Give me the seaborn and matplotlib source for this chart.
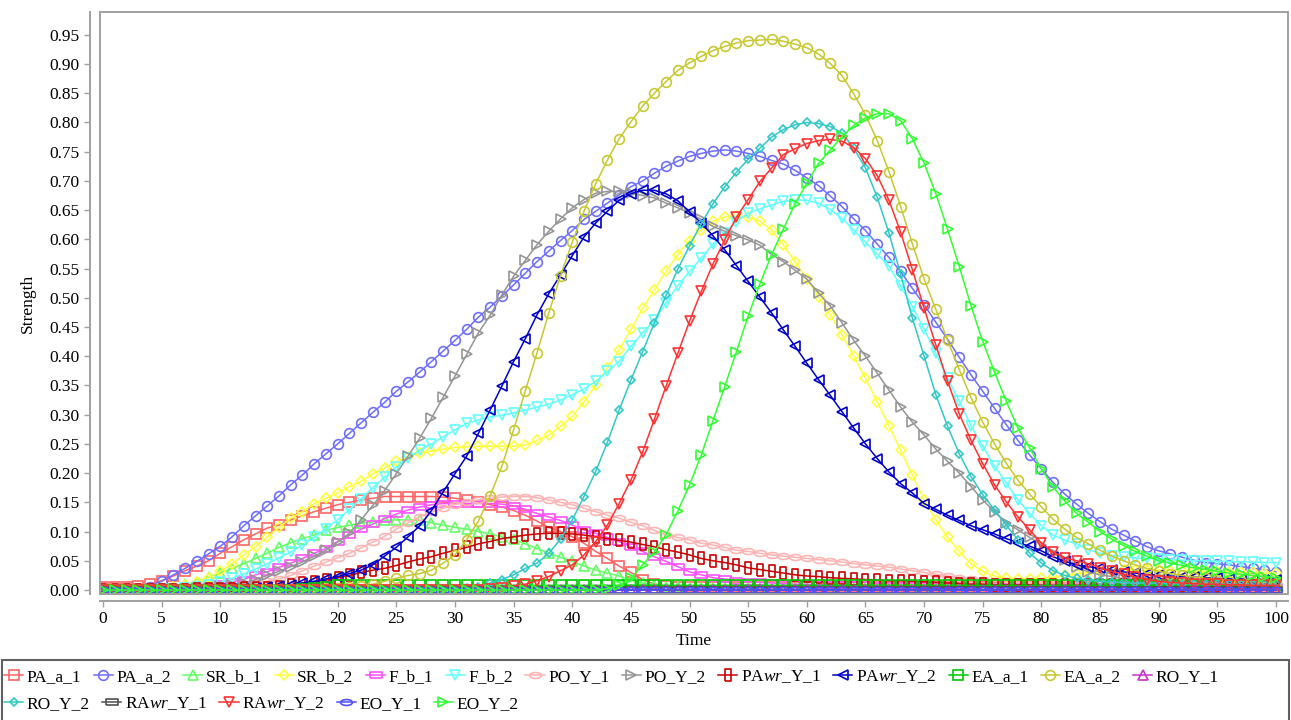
import numpy as np
import pandas as pd
import matplotlib
matplotlib.use("Agg")
import matplotlib.pyplot as plt
from matplotlib.patches import Rectangle
from matplotlib.path import Path
from matplotlib.transforms import Affine2D
import seaborn as sns

# time axis, one point per step
time = list(range(0, 101))

PA_a_1 = [0.006, 0.006, 0.006, 0.007, 0.010, 0.016, 0.024, 0.033, 0.041, 0.050,
          0.063, 0.074, 0.086, 0.096, 0.106, 0.111, 0.120, 0.127, 0.134, 0.140,
          0.146, 0.150, 0.154, 0.157, 0.160, 0.160, 0.160, 0.160, 0.160, 0.159,
          0.157, 0.154, 0.151, 0.146, 0.142, 0.136, 0.128, 0.118, 0.107, 0.100,
          0.091, 0.080, 0.066, 0.054, 0.041, 0.030, 0.018, 0.010, 0.007, 0.005,
          0.005, 0.005, 0.005, 0.005, 0.005, 0.005, 0.005, 0.005, 0.005, 0.005,
          0.005, 0.005, 0.005, 0.005, 0.005, 0.005, 0.005, 0.005, 0.005, 0.005,
          0.005, 0.005, 0.005, 0.005, 0.005, 0.005, 0.005, 0.005, 0.005, 0.005,
          0.005, 0.005, 0.005, 0.005, 0.005, 0.005, 0.005, 0.005, 0.005, 0.005,
          0.005, 0.005, 0.005, 0.005, 0.005, 0.005, 0.005, 0.005, 0.005, 0.005,
          0.005]

PA_a_2 = [0.0, 0.0, 0.0, 0.002, 0.006, 0.015, 0.026, 0.037, 0.049, 0.062,
          0.075, 0.091, 0.110, 0.127, 0.144, 0.161, 0.180, 0.197, 0.216, 0.233,
          0.250, 0.268, 0.286, 0.304, 0.321, 0.340, 0.356, 0.373, 0.391, 0.409,
          0.427, 0.446, 0.467, 0.484, 0.503, 0.522, 0.542, 0.562, 0.580, 0.598,
          0.615, 0.634, 0.648, 0.662, 0.676, 0.690, 0.700, 0.713, 0.725, 0.734,
          0.742, 0.747, 0.751, 0.753, 0.751, 0.747, 0.742, 0.735, 0.729, 0.718,
          0.705, 0.692, 0.674, 0.656, 0.635, 0.615, 0.592, 0.569, 0.545, 0.516,
          0.488, 0.458, 0.429, 0.398, 0.368, 0.340, 0.311, 0.283, 0.256, 0.231,
          0.207, 0.184, 0.164, 0.147, 0.131, 0.117, 0.104, 0.094, 0.084, 0.074,
          0.067, 0.062, 0.056, 0.051, 0.047, 0.045, 0.043, 0.040, 0.037, 0.035,
          0.031]

SR_b_1 = [0.0, 0.0, 0.0, 0.0, 0.001, 0.003, 0.006, 0.010, 0.014, 0.022,
          0.029, 0.037, 0.045, 0.054, 0.063, 0.073, 0.081, 0.088, 0.094, 0.102,
          0.107, 0.111, 0.114, 0.117, 0.119, 0.120, 0.120, 0.119, 0.115, 0.111,
          0.107, 0.104, 0.100, 0.096, 0.091, 0.087, 0.079, 0.071, 0.063, 0.056,
          0.049, 0.041, 0.034, 0.029, 0.024, 0.017, 0.012, 0.008, 0.006, 0.005,
          0.004, 0.004, 0.004, 0.004, 0.004, 0.004, 0.004, 0.004, 0.004, 0.004,
          0.004, 0.004, 0.004, 0.004, 0.004, 0.004, 0.004, 0.004, 0.004, 0.004,
          0.004, 0.004, 0.004, 0.004, 0.004, 0.004, 0.004, 0.004, 0.004, 0.004,
          0.004, 0.004, 0.004, 0.004, 0.004, 0.004, 0.004, 0.004, 0.004, 0.004,
          0.004, 0.004, 0.004, 0.004, 0.004, 0.004, 0.004, 0.004, 0.004, 0.004,
          0.004]

SR_b_2 = [0.0, 0.0, 0.0, 0.0, 0.001, 0.002, 0.005, 0.009, 0.014, 0.021,
          0.032, 0.045, 0.060, 0.074, 0.091, 0.107, 0.123, 0.134, 0.148, 0.157,
          0.166, 0.177, 0.186, 0.199, 0.209, 0.220, 0.228, 0.234, 0.238, 0.241,
          0.244, 0.245, 0.246, 0.246, 0.246, 0.246, 0.248, 0.256, 0.265, 0.280,
          0.297, 0.322, 0.351, 0.380, 0.411, 0.446, 0.482, 0.514, 0.545, 0.574,
          0.598, 0.616, 0.631, 0.638, 0.640, 0.638, 0.631, 0.616, 0.590, 0.562,
          0.532, 0.502, 0.471, 0.437, 0.400, 0.362, 0.322, 0.281, 0.239, 0.197,
          0.154, 0.120, 0.090, 0.066, 0.045, 0.032, 0.024, 0.020, 0.019, 0.019,
          0.020, 0.022, 0.025, 0.028, 0.030, 0.032, 0.033, 0.034, 0.034, 0.034,
          0.034, 0.033, 0.033, 0.032, 0.032, 0.031, 0.031, 0.030, 0.030, 0.029,
          0.029]

F_b_1 = [0.0, 0.0, 0.0, 0.0, 0.0, 0.0, 0.001, 0.002, 0.004, 0.006,
         0.010, 0.014, 0.018, 0.026, 0.031, 0.039, 0.046, 0.054, 0.063, 0.071,
         0.083, 0.094, 0.104, 0.113, 0.122, 0.130, 0.137, 0.142, 0.146, 0.148,
         0.148, 0.148, 0.148, 0.148, 0.147, 0.144, 0.138, 0.131, 0.125, 0.119,
         0.111, 0.103, 0.097, 0.090, 0.083, 0.074, 0.066, 0.057, 0.049, 0.040,
         0.031, 0.026, 0.021, 0.019, 0.016, 0.014, 0.013, 0.012, 0.011, 0.010,
         0.010, 0.009, 0.009, 0.008, 0.008, 0.008, 0.007, 0.007, 0.007, 0.007,
         0.007, 0.007, 0.007, 0.007, 0.007, 0.006, 0.006, 0.006, 0.006, 0.006,
         0.006, 0.006, 0.006, 0.006, 0.006, 0.006, 0.006, 0.006, 0.006, 0.006,
         0.006, 0.006, 0.006, 0.006, 0.006, 0.006, 0.006, 0.006, 0.006, 0.006,
         0.006]

F_b_2 = [0.0, 0.0, 0.0, 0.0, 0.0, 0.001, 0.002, 0.003, 0.005, 0.008,
         0.013, 0.020, 0.028, 0.036, 0.045, 0.055, 0.065, 0.077, 0.090, 0.105,
         0.120, 0.138, 0.156, 0.175, 0.193, 0.210, 0.226, 0.239, 0.250, 0.262,
         0.274, 0.285, 0.291, 0.296, 0.299, 0.303, 0.308, 0.313, 0.318, 0.325,
         0.334, 0.344, 0.357, 0.374, 0.391, 0.417, 0.440, 0.462, 0.491, 0.521,
         0.545, 0.568, 0.592, 0.611, 0.630, 0.645, 0.652, 0.659, 0.665, 0.667,
         0.667, 0.662, 0.651, 0.636, 0.616, 0.595, 0.575, 0.554, 0.520, 0.485,
         0.446, 0.405, 0.362, 0.323, 0.281, 0.246, 0.212, 0.183, 0.154, 0.131,
         0.110, 0.094, 0.085, 0.079, 0.069, 0.063, 0.059, 0.057, 0.055, 0.054,
         0.053, 0.052, 0.051, 0.050, 0.050, 0.049, 0.049, 0.048, 0.048, 0.047,
         0.047]

PO_Y_1 = [0.0, 0.0, 0.0, 0.0, 0.0, 0.0, 0.0, 0.001, 0.002, 0.003,
          0.005, 0.007, 0.009, 0.012, 0.015, 0.019, 0.025, 0.033, 0.041, 0.048,
          0.055, 0.063, 0.072, 0.082, 0.092, 0.104, 0.115, 0.125, 0.133, 0.140,
          0.146, 0.151, 0.154, 0.157, 0.159, 0.160, 0.160, 0.158, 0.154, 0.150,
          0.146, 0.140, 0.134, 0.128, 0.123, 0.116, 0.110, 0.102, 0.094, 0.090,
          0.086, 0.080, 0.077, 0.073, 0.068, 0.066, 0.063, 0.060, 0.058, 0.056,
          0.054, 0.052, 0.050, 0.048, 0.045, 0.043, 0.041, 0.039, 0.036, 0.033,
          0.030, 0.027, 0.024, 0.021, 0.019, 0.017, 0.015, 0.014, 0.013, 0.012,
          0.011, 0.010, 0.010, 0.009, 0.009, 0.009, 0.008, 0.008, 0.008, 0.008,
          0.007, 0.007, 0.007, 0.007, 0.007, 0.007, 0.006, 0.006, 0.006, 0.006,
          0.006]

PO_Y_2 = [0.0, 0.0, 0.0, 0.0, 0.0, 0.0, 0.001, 0.002, 0.003, 0.004,
          0.005, 0.008, 0.012, 0.018, 0.025, 0.032, 0.040, 0.048, 0.058, 0.068,
          0.082, 0.097, 0.120, 0.145, 0.170, 0.199, 0.229, 0.260, 0.294, 0.330,
          0.366, 0.403, 0.440, 0.470, 0.505, 0.537, 0.564, 0.591, 0.614, 0.635,
          0.654, 0.668, 0.679, 0.682, 0.682, 0.679, 0.675, 0.671, 0.662, 0.654,
          0.645, 0.634, 0.622, 0.614, 0.606, 0.599, 0.590, 0.574, 0.562, 0.547,
          0.532, 0.508, 0.486, 0.457, 0.427, 0.400, 0.371, 0.342, 0.313, 0.287,
          0.265, 0.241, 0.220, 0.200, 0.177, 0.154, 0.134, 0.115, 0.103, 0.090,
          0.077, 0.063, 0.051, 0.040, 0.031, 0.026, 0.023, 0.019, 0.017, 0.016,
          0.015, 0.015, 0.014, 0.014, 0.014, 0.013, 0.013, 0.013, 0.012, 0.012,
          0.012]

PAwr_Y_1 = [0.0, 0.0, 0.0, 0.0, 0.0, 0.0, 0.0, 0.0, 0.001, 0.001,
            0.002, 0.002, 0.003, 0.003, 0.004, 0.006, 0.009, 0.012, 0.014, 0.017,
            0.021, 0.025, 0.030, 0.034, 0.037, 0.042, 0.048, 0.053, 0.057, 0.063,
            0.068, 0.073, 0.079, 0.083, 0.088, 0.091, 0.094, 0.096, 0.097, 0.097,
            0.096, 0.094, 0.091, 0.088, 0.085, 0.082, 0.078, 0.074, 0.069, 0.065,
            0.060, 0.054, 0.050, 0.047, 0.043, 0.038, 0.035, 0.032, 0.029, 0.026,
            0.024, 0.023, 0.021, 0.020, 0.019, 0.018, 0.017, 0.016, 0.016, 0.015,
            0.014, 0.013, 0.012, 0.011, 0.010, 0.010, 0.009, 0.009, 0.009, 0.009,
            0.008, 0.008, 0.008, 0.008, 0.008, 0.008, 0.008, 0.008, 0.008, 0.008,
            0.007, 0.007, 0.007, 0.007, 0.007, 0.007, 0.006, 0.006, 0.006, 0.006,
            0.006]

PAwr_Y_2 = [0.0, 0.0, 0.0, 0.0, 0.0, 0.0, 0.0, 0.0, 0.0, 0.0,
            0.001, 0.001, 0.002, 0.003, 0.005, 0.007, 0.009, 0.012, 0.015, 0.019,
            0.023, 0.028, 0.034, 0.043, 0.058, 0.073, 0.091, 0.110, 0.136, 0.168,
            0.199, 0.229, 0.268, 0.308, 0.349, 0.391, 0.430, 0.471, 0.507, 0.539,
            0.572, 0.604, 0.628, 0.648, 0.667, 0.678, 0.684, 0.684, 0.678, 0.666,
            0.647, 0.628, 0.606, 0.582, 0.555, 0.528, 0.501, 0.474, 0.445, 0.417,
            0.388, 0.360, 0.333, 0.305, 0.277, 0.250, 0.225, 0.202, 0.182, 0.166,
            0.148, 0.138, 0.128, 0.119, 0.110, 0.103, 0.096, 0.088, 0.081, 0.075,
            0.067, 0.057, 0.049, 0.043, 0.040, 0.037, 0.034, 0.031, 0.029, 0.027,
            0.025, 0.024, 0.023, 0.022, 0.021, 0.020, 0.019, 0.019, 0.018, 0.018,
            0.017]

EA_a_1 = [0.0, 0.0, 0.0, 0.0, 0.0, 0.0, 0.0, 0.0, 0.0, 0.0,
          0.0, 0.0, 0.0, 0.0, 0.0, 0.0, 0.0, 0.001, 0.003, 0.006,
          0.008, 0.008, 0.008, 0.008, 0.008, 0.008, 0.008, 0.008, 0.008, 0.008,
          0.008, 0.008, 0.008, 0.008, 0.008, 0.008, 0.008, 0.008, 0.008, 0.008,
          0.008, 0.008, 0.008, 0.008, 0.008, 0.008, 0.008, 0.008, 0.008, 0.008,
          0.008, 0.008, 0.008, 0.008, 0.008, 0.008, 0.008, 0.008, 0.008, 0.008,
          0.008, 0.008, 0.008, 0.008, 0.008, 0.008, 0.008, 0.008, 0.008, 0.008,
          0.008, 0.008, 0.008, 0.008, 0.008, 0.008, 0.008, 0.008, 0.008, 0.008,
          0.008, 0.008, 0.008, 0.008, 0.008, 0.008, 0.008, 0.008, 0.008, 0.008,
          0.008, 0.008, 0.008, 0.008, 0.008, 0.008, 0.008, 0.008, 0.008, 0.008,
          0.008]

EA_a_2 = [0.0, 0.0, 0.0, 0.0, 0.0, 0.0, 0.0, 0.0, 0.0, 0.0,
          0.0, 0.0, 0.0, 0.0, 0.0, 0.001, 0.001, 0.002, 0.002, 0.003,
          0.004, 0.005, 0.007, 0.010, 0.015, 0.020, 0.025, 0.028, 0.034, 0.046,
          0.060, 0.086, 0.118, 0.161, 0.212, 0.274, 0.341, 0.406, 0.474, 0.538,
          0.595, 0.648, 0.695, 0.736, 0.772, 0.801, 0.828, 0.850, 0.870, 0.889,
          0.902, 0.913, 0.923, 0.930, 0.936, 0.940, 0.941, 0.942, 0.939, 0.934,
          0.928, 0.917, 0.901, 0.880, 0.849, 0.813, 0.769, 0.716, 0.656, 0.592,
          0.532, 0.480, 0.427, 0.377, 0.329, 0.287, 0.250, 0.217, 0.188, 0.164,
          0.142, 0.121, 0.104, 0.090, 0.079, 0.068, 0.058, 0.050, 0.043, 0.037,
          0.032, 0.028, 0.025, 0.022, 0.020, 0.018, 0.016, 0.015, 0.014, 0.013,
          0.012]

RO_Y_1 = [0.0, 0.0, 0.0, 0.0, 0.0, 0.0, 0.0, 0.0, 0.0, 0.0,
          0.0, 0.0, 0.0, 0.0, 0.0, 0.0, 0.0, 0.0, 0.0, 0.0,
          0.0, 0.0, 0.0, 0.0, 0.0, 0.0, 0.0, 0.0, 0.0, 0.0,
          0.0, 0.0, 0.0, 0.0, 0.0, 0.0, 0.0, 0.0, 0.0, 0.0,
          0.0, 0.0, 0.0, 0.0, 0.0, 0.0, 0.0, 0.0, 0.0, 0.0,
          0.0, 0.0, 0.0, 0.0, 0.0, 0.0, 0.0, 0.0, 0.0, 0.0,
          0.0, 0.0, 0.0, 0.0, 0.0, 0.0, 0.0, 0.0, 0.0, 0.0,
          0.0, 0.0, 0.0, 0.0, 0.0, 0.0, 0.0, 0.0, 0.0, 0.0,
          0.0, 0.0, 0.0, 0.0, 0.0, 0.0, 0.0, 0.0, 0.0, 0.0,
          0.0, 0.0, 0.0, 0.0, 0.0, 0.0, 0.0, 0.0, 0.0, 0.0,
          0.0]

RO_Y_2 = [0.0, 0.0, 0.0, 0.0, 0.0, 0.0, 0.0, 0.0, 0.0, 0.0,
          0.0, 0.0, 0.0, 0.0, 0.0, 0.0, 0.0, 0.0, 0.0, 0.0,
          0.0, 0.0, 0.0, 0.0, 0.0, 0.001, 0.001, 0.001, 0.001, 0.001,
          0.001, 0.003, 0.006, 0.012, 0.018, 0.026, 0.037, 0.046, 0.063, 0.087,
          0.120, 0.160, 0.203, 0.253, 0.308, 0.359, 0.408, 0.457, 0.504, 0.549,
          0.589, 0.627, 0.661, 0.690, 0.715, 0.737, 0.756, 0.775, 0.788, 0.796,
          0.800, 0.798, 0.793, 0.782, 0.756, 0.722, 0.672, 0.611, 0.540, 0.465,
          0.400, 0.334, 0.280, 0.233, 0.194, 0.163, 0.137, 0.111, 0.086, 0.063,
          0.046, 0.033, 0.025, 0.020, 0.017, 0.015, 0.014, 0.013, 0.012, 0.012,
          0.012, 0.011, 0.011, 0.011, 0.011, 0.011, 0.010, 0.010, 0.010, 0.010,
          0.010]

RAwr_Y_1 = [0.0, 0.0, 0.0, 0.0, 0.0, 0.0, 0.0, 0.0, 0.0, 0.0,
            0.0, 0.0, 0.0, 0.0, 0.0, 0.0, 0.0, 0.0, 0.0, 0.0,
            0.0, 0.0, 0.0, 0.0, 0.0, 0.0, 0.0, 0.0, 0.0, 0.0,
            0.0, 0.0, 0.0, 0.0, 0.0, 0.0, 0.0, 0.0, 0.0, 0.0,
            0.0, 0.0, 0.0, 0.0, 0.0, 0.0, 0.0, 0.0, 0.0, 0.0,
            0.0, 0.0, 0.0, 0.0, 0.0, 0.0, 0.0, 0.0, 0.0, 0.0,
            0.0, 0.0, 0.0, 0.0, 0.0, 0.0, 0.0, 0.0, 0.0, 0.0,
            0.0, 0.0, 0.0, 0.0, 0.0, 0.0, 0.0, 0.0, 0.0, 0.0,
            0.0, 0.0, 0.0, 0.0, 0.0, 0.0, 0.0, 0.0, 0.0, 0.0,
            0.0, 0.0, 0.0, 0.0, 0.0, 0.0, 0.0, 0.0, 0.0, 0.0,
            0.0]

RAwr_Y_2 = [0.0, 0.0, 0.0, 0.0, 0.0, 0.0, 0.0, 0.0, 0.0, 0.0,
            0.0, 0.0, 0.0, 0.0, 0.0, 0.0, 0.0, 0.0, 0.0, 0.0,
            0.0, 0.0, 0.0, 0.0, 0.0, 0.0, 0.0, 0.0, 0.0, 0.0,
            0.0, 0.0, 0.0, 0.002, 0.004, 0.007, 0.010, 0.016, 0.023, 0.033,
            0.043, 0.060, 0.083, 0.111, 0.148, 0.188, 0.236, 0.292, 0.349, 0.405,
            0.460, 0.511, 0.558, 0.599, 0.638, 0.668, 0.699, 0.722, 0.745, 0.755,
            0.764, 0.769, 0.771, 0.768, 0.757, 0.738, 0.709, 0.667, 0.612, 0.548,
            0.482, 0.419, 0.357, 0.301, 0.256, 0.216, 0.180, 0.151, 0.125, 0.103,
            0.080, 0.065, 0.055, 0.050, 0.045, 0.038, 0.032, 0.027, 0.022, 0.018,
            0.015, 0.013, 0.012, 0.011, 0.010, 0.010, 0.009, 0.009, 0.008, 0.008,
            0.008]

EO_Y_1 = [0.0, 0.0, 0.0, 0.0, 0.0, 0.0, 0.0, 0.0, 0.0, 0.0,
          0.0, 0.0, 0.0, 0.0, 0.0, 0.0, 0.0, 0.0, 0.0, 0.0,
          0.0, 0.0, 0.0, 0.0, 0.0, 0.0, 0.0, 0.0, 0.0, 0.0,
          0.0, 0.0, 0.0, 0.0, 0.0, 0.0, 0.0, 0.0, 0.0, 0.0,
          0.0, 0.0, 0.0, 0.0, 0.0, 0.0, 0.0, 0.0, 0.0, 0.0,
          0.0, 0.0, 0.0, 0.0, 0.0, 0.0, 0.0, 0.0, 0.0, 0.0,
          0.0, 0.0, 0.0, 0.0, 0.0, 0.0, 0.0, 0.0, 0.0, 0.0,
          0.0, 0.0, 0.0, 0.0, 0.0, 0.0, 0.0, 0.0, 0.0, 0.0,
          0.0, 0.0, 0.0, 0.0, 0.0, 0.0, 0.0, 0.0, 0.0, 0.0,
          0.0, 0.0, 0.0, 0.0, 0.0, 0.0, 0.0, 0.0, 0.0, 0.0,
          0.0]

EO_Y_2 = [0.0, 0.0, 0.0, 0.0, 0.0, 0.0, 0.0, 0.0, 0.0, 0.0,
          0.0, 0.0, 0.0, 0.0, 0.0, 0.0, 0.0, 0.0, 0.0, 0.0,
          0.0, 0.0, 0.0, 0.0, 0.0, 0.0, 0.0, 0.0, 0.0, 0.0,
          0.0, 0.0, 0.0, 0.0, 0.0, 0.0, 0.0, 0.0, 0.0, 0.0,
          0.0, 0.0, 0.0, 0.002, 0.008, 0.020, 0.043, 0.065, 0.095, 0.135,
          0.180, 0.231, 0.290, 0.348, 0.408, 0.469, 0.524, 0.574, 0.618, 0.661,
          0.696, 0.730, 0.753, 0.776, 0.795, 0.808, 0.815, 0.815, 0.803, 0.772,
          0.730, 0.678, 0.617, 0.553, 0.486, 0.425, 0.373, 0.323, 0.277, 0.243,
          0.207, 0.176, 0.152, 0.131, 0.116, 0.100, 0.087, 0.076, 0.066, 0.058,
          0.050, 0.046, 0.042, 0.038, 0.035, 0.032, 0.029, 0.027, 0.025, 0.023,
          0.021]

names = ["PA_a_1", "PA_a_2", "SR_b_1", "SR_b_2", "F_b_1", "F_b_2", "PO_Y_1",
         "PO_Y_2", "PAwr_Y_1", "PAwr_Y_2", "EA_a_1", "EA_a_2", "RO_Y_1",
         "RO_Y_2", "RAwr_Y_1", "RAwr_Y_2", "EO_Y_1", "EO_Y_2"]
series = [PA_a_1, PA_a_2, SR_b_1, SR_b_2, F_b_1, F_b_2, PO_Y_1, PO_Y_2,
          PAwr_Y_1, PAwr_Y_2, EA_a_1, EA_a_2, RO_Y_1, RO_Y_2, RAwr_Y_1,
          RAwr_Y_2, EO_Y_1, EO_Y_2]
legend_names = [n.replace("wr", "$wr$") for n in names]

colors = ["#ff6464", "#6e6eff", "#64ff64", "#ffff3c", "#ff50ff", "#64ffff",
          "#ffb4b4", "#969696", "#c80000", "#0000c8", "#00c800", "#c8c832",
          "#c832c8", "#32c8c8", "#505050", "#ff3232", "#5050ff", "#32ff32"]

# marker shapes
hrect = [(-1, -0.45), (1, -0.45), (1, 0.45), (-1, 0.45), (-1, -0.45)]
vrect = [(-0.45, -1), (0.45, -1), (0.45, 1), (-0.45, 1), (-0.45, -1)]
ellipse = Path.unit_circle().transformed(Affine2D().scale(1, 0.5))

markers = ["s", "o", "^", "D", hrect, "v", ellipse, ">", vrect, "<", "s", "o",
           "^", "D", hrect, "v", ellipse, ">"]
msizes = [7.5, 7, 7.5, 5.5, 8.5, 7.5, 8.5, 7.5, 8.5, 7.5, 7.5, 7, 7.5, 4.5,
          8.5, 7.5, 8.5, 7.5]

df = pd.DataFrame({"Time": time})
for n, s in zip(names, series):
    df[n] = s

plt.rcParams['font.family'] = ['Liberation Serif', 'DejaVu Serif']
plt.rcParams['mathtext.fontset'] = 'custom'
plt.rcParams['mathtext.it'] = 'Liberation Serif:italic'
plt.rcParams['mathtext.rm'] = 'Liberation Serif'

fig = plt.figure(figsize=(12.91, 7.2), dpi=100)
ax = fig.add_axes([100 / 1291, 1 - 594 / 720, 1188 / 1291, 582 / 720])

handles = []
for i, n in enumerate(names):
    sns.lineplot(data=df, x="Time", y=n, ax=ax, color=colors[i],
                 marker=markers[i], markersize=msizes[i],
                 markerfacecolor="none", markeredgecolor=colors[i],
                 markeredgewidth=1.2, linewidth=1.1, legend=False)
    handles.append(ax.lines[-1])

ax.set_xlim(-0.26, 101.02)
ax.set_ylim(-0.0068, 0.989)
ax.set_xticks(np.arange(0, 101, 5))
ax.set_yticks(np.arange(0, 0.951, 0.05))
ax.set_yticklabels([f"{v:.2f}" for v in np.arange(0, 0.951, 0.05)])
ax.set_xlabel("Time", fontsize=12.5, labelpad=4)
ax.set_ylabel("Strength", fontsize=12.5, labelpad=10)

for side in ["top", "right"]:
    ax.spines[side].set_visible(False)
for side in ["left", "bottom"]:
    ax.spines[side].set_color("#a0a0a0")
    ax.spines[side].set_linewidth(1.4)
ax.spines["left"].set_position(("outward", 7))
ax.spines["bottom"].set_position(("outward", 5))
ax.add_patch(Rectangle((0, 0), 1, 1, transform=ax.transAxes, fill=False,
                       edgecolor="#a0a0a0", linewidth=1.4, clip_on=False,
                       zorder=5))
ax.tick_params(axis="both", direction="out", length=4, width=1,
               color="#a0a0a0", labelsize=12.5, labelcolor="black")
ax.grid(False)

# legend box at the bottom
fig.patches.append(Rectangle((2 / 1291, -0.01), 1287 / 1291, 0.01 + 60 / 720,
                             transform=fig.transFigure, fill=False,
                             edgecolor="#606060", linewidth=1.5))
leg_kw = dict(frameon=False, fontsize=12.5, handlelength=1.1,
              handletextpad=0.2, columnspacing=0.72, numpoints=1,
              borderpad=0, borderaxespad=0, loc="upper left")
fig.legend(handles[:13], legend_names[:13], ncol=13,
           bbox_to_anchor=(4 / 1291, 1 - 668 / 720), **leg_kw)
fig.legend(handles[13:], legend_names[13:], ncol=5,
           bbox_to_anchor=(4 / 1291, 1 - 695 / 720), **leg_kw)

fig.savefig("out.png", dpi=100)
